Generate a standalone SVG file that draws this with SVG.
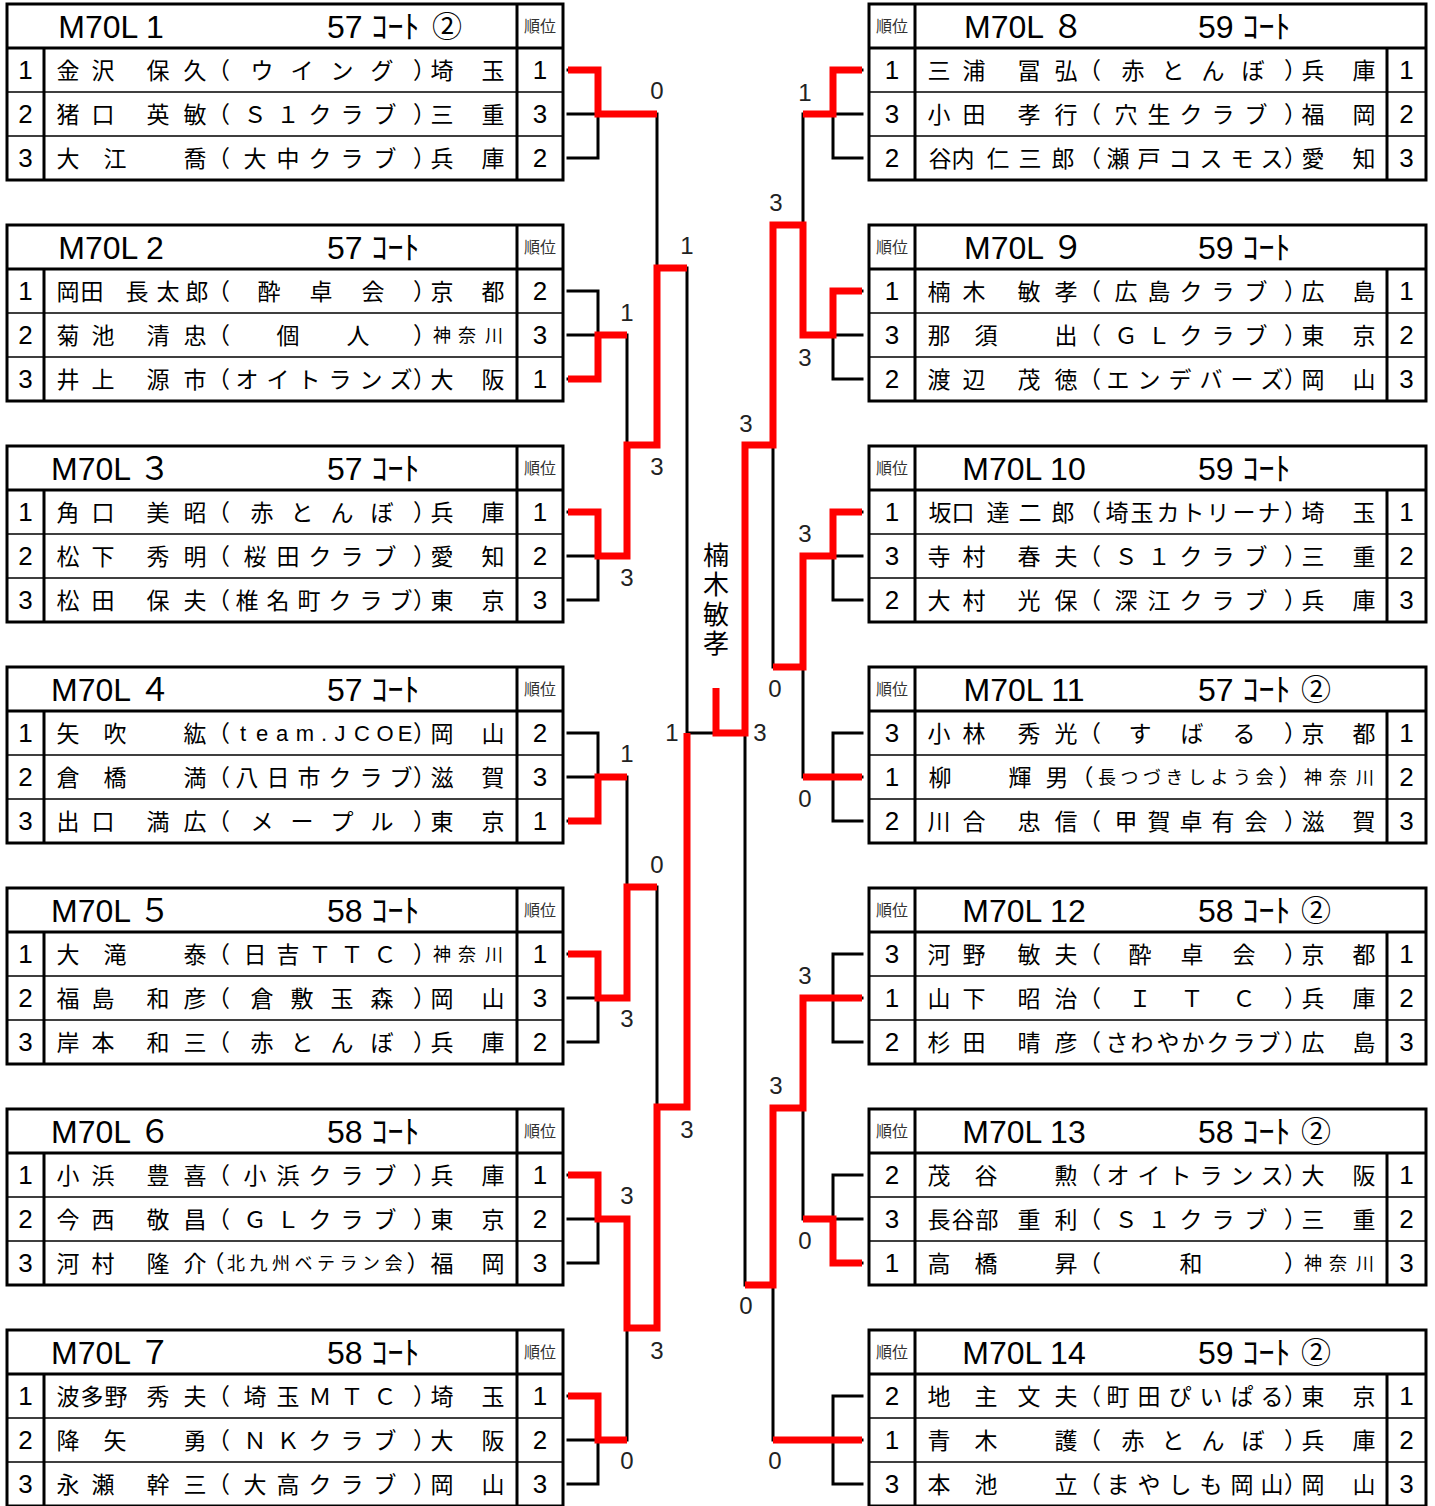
<svg xmlns="http://www.w3.org/2000/svg" width="1435" height="1506" viewBox="0 0 1435 1506">
<style>
.tb{fill:none;stroke:#000;stroke-width:3}
.tl{fill:none;stroke:#000;stroke-width:3}
.th{fill:none;stroke:#000;stroke-width:1.5}
.k{fill:none;stroke:#000;stroke-width:3;stroke-linecap:square}
.r{fill:none;stroke:#ff0000;stroke-width:7;stroke-linejoin:miter;stroke-linecap:butt}
.n{font-family:"Noto Sans CJK JP",sans-serif;font-size:23px;fill:#000;text-anchor:middle}
.s{font-family:"Noto Sans CJK JP",sans-serif;font-size:18px;fill:#000;text-anchor:middle}
.l{font-family:"Liberation Sans",sans-serif;font-size:22px;fill:#000;text-anchor:middle}
.d{font-family:"Liberation Sans",sans-serif;font-size:26px;fill:#000;text-anchor:middle}
.sc{font-family:"Liberation Sans",sans-serif;font-size:24px;fill:#222;text-anchor:middle}
.h{font-family:"Liberation Sans","Noto Sans CJK JP",sans-serif;font-size:32px;fill:#000}
.c{font-family:"Noto Sans CJK JP",sans-serif;font-size:30px;fill:#000;text-anchor:middle}
.j{font-family:"Noto Sans CJK JP",sans-serif;font-size:16px;fill:#333;text-anchor:middle}
.v{font-family:"Noto Sans CJK JP",sans-serif;font-size:26px;fill:#000;writing-mode:vertical-rl;letter-spacing:3.5px}
</style>

<!-- LEFT TABLES -->
<g id="t1" transform="translate(0,4)">
<rect class="tb" x="7" y="0" width="556" height="176"/>
<path class="tl" d="M7 44H563M44 44V176M517 0V176"/>
<path class="th" d="M7 88H563M7 132H563"/>
<text class="h" x="111" y="33.5" text-anchor="middle">M70L 1</text>
<text class="h" x="327" y="33.5">57 ｺｰﾄ</text>
<text class="c" x="447" y="32.5">②</text>
<text class="j" x="540" y="28">順位</text>
<text class="d" x="25.5" y="75.3">1</text><text class="d" x="25.5" y="119.3">2</text><text class="d" x="25.5" y="163.3">3</text>
<text class="d" x="540" y="75.3">1</text><text class="d" x="540" y="119.3">3</text><text class="d" x="540" y="163.3">2</text>
<text class="n" x="68 103 158 195 218.5 262 302 342 382 424.5 442 493" y="74.7">金沢保久（ウイング）埼玉</text>
<text class="n" x="68 103 158 195 218.5 255 288 320 352 385 424.5 442 493" y="118.7">猪口英敏（Ｓ１クラブ）三重</text>
<text class="n" x="68 115 195 218.5 255 288 320 352 385 424.5 442 493" y="162.7">大江喬（大中クラブ）兵庫</text>
</g>

<g id="t2" transform="translate(0,225)">
<rect class="tb" x="7" y="0" width="556" height="176"/>
<path class="tl" d="M7 44H563M44 44V176M517 0V176"/>
<path class="th" d="M7 88H563M7 132H563"/>
<text class="h" x="111" y="33.5" text-anchor="middle">M70L 2</text>
<text class="h" x="327" y="33.5">57 ｺｰﾄ</text>
<text class="j" x="540" y="28">順位</text>
<text class="d" x="25.5" y="75.3">1</text><text class="d" x="25.5" y="119.3">2</text><text class="d" x="25.5" y="163.3">3</text>
<text class="d" x="540" y="75.3">2</text><text class="d" x="540" y="119.3">3</text><text class="d" x="540" y="163.3">1</text>
<text class="n" x="68 92 137 168 197 218.5 269 321 373 424.5 442 493" y="74.7">岡田長太郎（酔卓会）京都</text>
<text class="n" x="68 103 158 195 218.5 288 358 424.5" y="118.7">菊池清忠（個人）</text>
<text class="s" x="442 467 494" y="116.8">神奈川</text>
<text class="n" x="68 103 158 195 218.5 247 278 309 340 371 401 424.5 442 493" y="162.7">井上源市（オイトランズ）大阪</text>
</g>

<g id="t3" transform="translate(0,446)">
<rect class="tb" x="7" y="0" width="556" height="176"/>
<path class="tl" d="M7 44H563M44 44V176M517 0V176"/>
<path class="th" d="M7 88H563M7 132H563"/>
<text class="h" x="111" y="33.5" text-anchor="middle">M70L ３</text>
<text class="h" x="327" y="33.5">57 ｺｰﾄ</text>
<text class="j" x="540" y="28">順位</text>
<text class="d" x="25.5" y="75.3">1</text><text class="d" x="25.5" y="119.3">2</text><text class="d" x="25.5" y="163.3">3</text>
<text class="d" x="540" y="75.3">1</text><text class="d" x="540" y="119.3">2</text><text class="d" x="540" y="163.3">3</text>
<text class="n" x="68 103 158 195 218.5 262 302 342 382 424.5 442 493" y="74.7">角口美昭（赤とんぼ）兵庫</text>
<text class="n" x="68 103 158 195 218.5 255 288 320 352 385 424.5 442 493" y="118.7">松下秀明（桜田クラブ）愛知</text>
<text class="n" x="68 103 158 195 218.5 247 278 309 340 371 401 424.5 442 493" y="162.7">松田保夫（椎名町クラブ）東京</text>
</g>

<g id="t4" transform="translate(0,667)">
<rect class="tb" x="7" y="0" width="556" height="176"/>
<path class="tl" d="M7 44H563M44 44V176M517 0V176"/>
<path class="th" d="M7 88H563M7 132H563"/>
<text class="h" x="111" y="33.5" text-anchor="middle">M70L ４</text>
<text class="h" x="327" y="33.5">57 ｺｰﾄ</text>
<text class="j" x="540" y="28">順位</text>
<text class="d" x="25.5" y="75.3">1</text><text class="d" x="25.5" y="119.3">2</text><text class="d" x="25.5" y="163.3">3</text>
<text class="d" x="540" y="75.3">2</text><text class="d" x="540" y="119.3">3</text><text class="d" x="540" y="163.3">1</text>
<text class="n" x="68 115 195 218.5" y="74.7">矢吹紘（</text>
<text class="l" x="243 262 282 305 324 340 362 385 405" y="74">team.JCOE</text>
<text class="n" x="424.5 442 493" y="74.7">）岡山</text>
<text class="n" x="68 115 195 218.5 247 278 309 340 371 401 424.5 442 493" y="118.7">倉橋満（八日市クラブ）滋賀</text>
<text class="n" x="68 103 158 195 218.5 262 302 342 382 424.5 442 493" y="162.7">出口満広（メープル）東京</text>
</g>

<g id="t5" transform="translate(0,888)">
<rect class="tb" x="7" y="0" width="556" height="176"/>
<path class="tl" d="M7 44H563M44 44V176M517 0V176"/>
<path class="th" d="M7 88H563M7 132H563"/>
<text class="h" x="111" y="33.5" text-anchor="middle">M70L ５</text>
<text class="h" x="327" y="33.5">58 ｺｰﾄ</text>
<text class="j" x="540" y="28">順位</text>
<text class="d" x="25.5" y="75.3">1</text><text class="d" x="25.5" y="119.3">2</text><text class="d" x="25.5" y="163.3">3</text>
<text class="d" x="540" y="75.3">1</text><text class="d" x="540" y="119.3">3</text><text class="d" x="540" y="163.3">2</text>
<text class="n" x="68 115 195 218.5 255 288 320 352 385 424.5" y="74.7">大滝泰（日吉ＴＴＣ）</text>
<text class="s" x="442 467 494" y="72.8">神奈川</text>
<text class="n" x="68 103 158 195 218.5 262 302 342 382 424.5 442 493" y="118.7">福島和彦（倉敷玉森）岡山</text>
<text class="n" x="68 103 158 195 218.5 262 302 342 382 424.5 442 493" y="162.7">岸本和三（赤とんぼ）兵庫</text>
</g>

<g id="t6" transform="translate(0,1109)">
<rect class="tb" x="7" y="0" width="556" height="176"/>
<path class="tl" d="M7 44H563M44 44V176M517 0V176"/>
<path class="th" d="M7 88H563M7 132H563"/>
<text class="h" x="111" y="33.5" text-anchor="middle">M70L ６</text>
<text class="h" x="327" y="33.5">58 ｺｰﾄ</text>
<text class="j" x="540" y="28">順位</text>
<text class="d" x="25.5" y="75.3">1</text><text class="d" x="25.5" y="119.3">2</text><text class="d" x="25.5" y="163.3">3</text>
<text class="d" x="540" y="75.3">1</text><text class="d" x="540" y="119.3">2</text><text class="d" x="540" y="163.3">3</text>
<text class="n" x="68 103 158 195 218.5 255 288 320 352 385 424.5 442 493" y="74.7">小浜豊喜（小浜クラブ）兵庫</text>
<text class="n" x="68 103 158 195 218.5 255 288 320 352 385 424.5 442 493" y="118.7">今西敬昌（ＧＬクラブ）東京</text>
<text class="n" x="68 103 158 195 213" y="162.7">河村隆介（</text>
<text class="s" x="236 258.5 281 303.5 326 348.5 371 393.5" y="160.8">北九州ベテラン会</text>
<text class="n" x="418 442 493" y="162.7">）福岡</text>
</g>

<g id="t7" transform="translate(0,1330)">
<rect class="tb" x="7" y="0" width="556" height="176"/>
<path class="tl" d="M7 44H563M44 44V176M517 0V176"/>
<path class="th" d="M7 88H563M7 132H563"/>
<text class="h" x="111" y="33.5" text-anchor="middle">M70L ７</text>
<text class="h" x="327" y="33.5">58 ｺｰﾄ</text>
<text class="j" x="540" y="28">順位</text>
<text class="d" x="25.5" y="75.3">1</text><text class="d" x="25.5" y="119.3">2</text><text class="d" x="25.5" y="163.3">3</text>
<text class="d" x="540" y="75.3">1</text><text class="d" x="540" y="119.3">2</text><text class="d" x="540" y="163.3">3</text>
<text class="n" x="68 92 116 158 195 218.5 255 288 320 352 385 424.5 442 493" y="74.7">波多野秀夫（埼玉ＭＴＣ）埼玉</text>
<text class="n" x="68 115 195 218.5 255 288 320 352 385 424.5 442 493" y="118.7">降矢勇（ＮＫクラブ）大阪</text>
<text class="n" x="68 103 158 195 218.5 255 288 320 352 385 424.5 442 493" y="162.7">永瀬幹三（大高クラブ）岡山</text>
</g>

<!-- RIGHT TABLES -->
<g id="t8" transform="translate(0,4)">
<rect class="tb" x="869" y="0" width="557" height="176"/>
<path class="tl" d="M869 44H1426M915 0V176M1387 44V176"/>
<path class="th" d="M869 88H1426M869 132H1426"/>
<text class="j" x="892" y="28">順位</text>
<text class="h" x="1024" y="33.5" text-anchor="middle">M70L ８</text>
<text class="h" x="1198" y="33.5">59 ｺｰﾄ</text>
<text class="d" x="892" y="75.3">1</text><text class="d" x="892" y="119.3">3</text><text class="d" x="892" y="163.3">2</text>
<text class="d" x="1406.5" y="75.3">1</text><text class="d" x="1406.5" y="119.3">2</text><text class="d" x="1406.5" y="163.3">3</text>
<text class="n" x="939 974 1029 1066 1089.5 1133 1173 1213 1253 1295.5 1313 1364" y="74.7">三浦冨弘（赤とんぼ）兵庫</text>
<text class="n" x="939 974 1029 1066 1089.5 1126 1159 1191 1223 1256 1295.5 1313 1364" y="118.7">小田孝行（穴生クラブ）福岡</text>
<text class="n" x="940 963 998 1030 1063 1089.5 1118 1149 1180 1211 1242 1272 1295.5 1313 1364" y="162.7">谷内仁三郎（瀬戸コスモス）愛知</text>
</g>

<g id="t9" transform="translate(0,225)">
<rect class="tb" x="869" y="0" width="557" height="176"/>
<path class="tl" d="M869 44H1426M915 0V176M1387 44V176"/>
<path class="th" d="M869 88H1426M869 132H1426"/>
<text class="j" x="892" y="28">順位</text>
<text class="h" x="1024" y="33.5" text-anchor="middle">M70L ９</text>
<text class="h" x="1198" y="33.5">59 ｺｰﾄ</text>
<text class="d" x="892" y="75.3">1</text><text class="d" x="892" y="119.3">3</text><text class="d" x="892" y="163.3">2</text>
<text class="d" x="1406.5" y="75.3">1</text><text class="d" x="1406.5" y="119.3">2</text><text class="d" x="1406.5" y="163.3">3</text>
<text class="n" x="939 974 1029 1066 1089.5 1126 1159 1191 1223 1256 1295.5 1313 1364" y="74.7">楠木敏孝（広島クラブ）広島</text>
<text class="n" x="939 986 1066 1089.5 1126 1159 1191 1223 1256 1295.5 1313 1364" y="118.7">那須出（ＧＬクラブ）東京</text>
<text class="n" x="939 974 1029 1066 1089.5 1118 1149 1180 1211 1242 1272 1295.5 1313 1364" y="162.7">渡辺茂徳（エンデバーズ）岡山</text>
</g>

<g id="t10" transform="translate(0,446)">
<rect class="tb" x="869" y="0" width="557" height="176"/>
<path class="tl" d="M869 44H1426M915 0V176M1387 44V176"/>
<path class="th" d="M869 88H1426M869 132H1426"/>
<text class="j" x="892" y="28">順位</text>
<text class="h" x="1024" y="33.5" text-anchor="middle">M70L 10</text>
<text class="h" x="1198" y="33.5">59 ｺｰﾄ</text>
<text class="d" x="892" y="75.3">1</text><text class="d" x="892" y="119.3">3</text><text class="d" x="892" y="163.3">2</text>
<text class="d" x="1406.5" y="75.3">1</text><text class="d" x="1406.5" y="119.3">2</text><text class="d" x="1406.5" y="163.3">3</text>
<text class="n" x="940 963 998 1030 1063 1089.5 1117 1142 1168 1193 1218 1244 1269 1295.5 1313 1364" y="74.7">坂口達二郎（埼玉カトリーナ）埼玉</text>
<text class="n" x="939 974 1029 1066 1089.5 1126 1159 1191 1223 1256 1295.5 1313 1364" y="118.7">寺村春夫（Ｓ１クラブ）三重</text>
<text class="n" x="939 974 1029 1066 1089.5 1126 1159 1191 1223 1256 1295.5 1313 1364" y="162.7">大村光保（深江クラブ）兵庫</text>
</g>

<g id="t11" transform="translate(0,667)">
<rect class="tb" x="869" y="0" width="557" height="176"/>
<path class="tl" d="M869 44H1426M915 0V176M1387 44V176"/>
<path class="th" d="M869 88H1426M869 132H1426"/>
<text class="j" x="892" y="28">順位</text>
<text class="h" x="1024" y="33.5" text-anchor="middle">M70L 11</text>
<text class="h" x="1198" y="33.5">57 ｺｰﾄ</text>
<text class="c" x="1316" y="32.5">②</text>
<text class="d" x="892" y="75.3">3</text><text class="d" x="892" y="119.3">1</text><text class="d" x="892" y="163.3">2</text>
<text class="d" x="1406.5" y="75.3">1</text><text class="d" x="1406.5" y="119.3">2</text><text class="d" x="1406.5" y="163.3">3</text>
<text class="n" x="939 974 1029 1066 1089.5 1140 1192 1244 1295.5 1313 1364" y="74.7">小林秀光（すばる）京都</text>
<text class="n" x="940 1020 1057 1082" y="118.7">柳輝男（</text>
<text class="s" x="1107 1129.5 1152 1174.5 1197 1219.5 1242 1264.5" y="116.8">長つづきしよう会</text>
<text class="n" x="1290" y="118.7">）</text>
<text class="s" x="1313 1338 1365" y="116.8">神奈川</text>
<text class="n" x="939 974 1029 1066 1089.5 1126 1159 1191 1223 1256 1295.5 1313 1364" y="162.7">川合忠信（甲賀卓有会）滋賀</text>
</g>

<g id="t12" transform="translate(0,888)">
<rect class="tb" x="869" y="0" width="557" height="176"/>
<path class="tl" d="M869 44H1426M915 0V176M1387 44V176"/>
<path class="th" d="M869 88H1426M869 132H1426"/>
<text class="j" x="892" y="28">順位</text>
<text class="h" x="1024" y="33.5" text-anchor="middle">M70L 12</text>
<text class="h" x="1198" y="33.5">58 ｺｰﾄ</text>
<text class="c" x="1316" y="32.5">②</text>
<text class="d" x="892" y="75.3">3</text><text class="d" x="892" y="119.3">1</text><text class="d" x="892" y="163.3">2</text>
<text class="d" x="1406.5" y="75.3">1</text><text class="d" x="1406.5" y="119.3">2</text><text class="d" x="1406.5" y="163.3">3</text>
<text class="n" x="939 974 1029 1066 1089.5 1140 1192 1244 1295.5 1313 1364" y="74.7">河野敏夫（酔卓会）京都</text>
<text class="n" x="939 974 1029 1066 1089.5 1140 1192 1244 1295.5 1313 1364" y="118.7">山下昭治（ＩＴＣ）兵庫</text>
<text class="n" x="939 974 1029 1066 1089.5 1117 1142 1168 1193 1218 1244 1269 1295.5 1313 1364" y="162.7">杉田晴彦（さわやかクラブ）広島</text>
</g>

<g id="t13" transform="translate(0,1109)">
<rect class="tb" x="869" y="0" width="557" height="176"/>
<path class="tl" d="M869 44H1426M915 0V176M1387 44V176"/>
<path class="th" d="M869 88H1426M869 132H1426"/>
<text class="j" x="892" y="28">順位</text>
<text class="h" x="1024" y="33.5" text-anchor="middle">M70L 13</text>
<text class="h" x="1198" y="33.5">58 ｺｰﾄ</text>
<text class="c" x="1316" y="32.5">②</text>
<text class="d" x="892" y="75.3">2</text><text class="d" x="892" y="119.3">3</text><text class="d" x="892" y="163.3">1</text>
<text class="d" x="1406.5" y="75.3">1</text><text class="d" x="1406.5" y="119.3">2</text><text class="d" x="1406.5" y="163.3">3</text>
<text class="n" x="939 986 1066 1089.5 1118 1149 1180 1211 1242 1272 1295.5 1313 1364" y="74.7">茂谷勲（オイトランス）大阪</text>
<text class="n" x="939 963 987 1029 1066 1089.5 1126 1159 1191 1223 1256 1295.5 1313 1364" y="118.7">長谷部重利（Ｓ１クラブ）三重</text>
<text class="n" x="939 986 1066 1089.5 1191 1295.5" y="162.7">高橋昇（和）</text>
<text class="s" x="1313 1338 1365" y="160.8">神奈川</text>
</g>

<g id="t14" transform="translate(0,1330)">
<rect class="tb" x="869" y="0" width="557" height="176"/>
<path class="tl" d="M869 44H1426M915 0V176M1387 44V176"/>
<path class="th" d="M869 88H1426M869 132H1426"/>
<text class="j" x="892" y="28">順位</text>
<text class="h" x="1024" y="33.5" text-anchor="middle">M70L 14</text>
<text class="h" x="1198" y="33.5">59 ｺｰﾄ</text>
<text class="c" x="1316" y="32.5">②</text>
<text class="d" x="892" y="75.3">2</text><text class="d" x="892" y="119.3">1</text><text class="d" x="892" y="163.3">3</text>
<text class="d" x="1406.5" y="75.3">1</text><text class="d" x="1406.5" y="119.3">2</text><text class="d" x="1406.5" y="163.3">3</text>
<text class="n" x="939 986 1029 1066 1089.5 1118 1149 1180 1211 1242 1272 1295.5 1313 1364" y="74.7">地主文夫（町田ぴいぱる）東京</text>
<text class="n" x="939 986 1066 1089.5 1133 1173 1213 1253 1295.5 1313 1364" y="118.7">青木護（赤とんぼ）兵庫</text>
<text class="n" x="939 986 1066 1089.5 1118 1149 1180 1211 1242 1272 1295.5 1313 1364" y="162.7">本池立（まやしも岡山）岡山</text>
</g>

<!-- CONNECTORS -->
<g id="connectors">
<path class="k" d="M568 70H598M568 114H598M568 158H598M598 70V158
M568 291H598M568 335H598M568 379H598M598 291V379
M568 512H598M568 556H598M568 600H598M598 512V600
M568 733H598M568 777H598M568 821H598M598 733V821
M568 954H598M568 998H598M568 1042H598M598 954V1042
M568 1175H598M568 1219H598M568 1263H598M598 1175V1263
M568 1396H598M568 1440H598M568 1484H598M598 1396V1484
M598 114H657M598 335H627M598 556H627M627 335V556M627 445H657M657 114V445M657 268H687
M598 777H627M598 998H627M627 777V998M627 887H657
M598 1219H627M598 1440H627M627 1219V1440M627 1328H657
M657 887V1328M657 1107H687M687 268V1107M687 733H716"/>
<path class="k" d="M862 70H833M862 114H833M862 158H833M833 70V158
M862 291H833M862 335H833M862 379H833M833 291V379
M862 512H833M862 556H833M862 600H833M833 512V600
M862 733H833M862 777H833M862 821H833M833 733V821
M862 954H833M862 998H833M862 1042H833M833 954V1042
M862 1175H833M862 1219H833M862 1263H833M833 1175V1263
M862 1396H833M862 1440H833M862 1484H833M833 1396V1484
M833 114H803M833 335H803M803 114V335M803 225H773
M833 556H803M833 777H803M803 556V777M803 667H773
M773 225V667M773 445H745
M833 998H803M833 1219H803M803 998V1219M803 1108H773
M833 1440H773M773 1108V1440M773 1285H745
M745 445V1285M745 733H716"/>
<path class="r" d="M568 70H598V114H657"/>
<path class="r" d="M568 379H598V335H627"/>
<path class="r" d="M568 512H598V556H627V445H657V268H687"/>
<path class="r" d="M568 821H598V777H627"/>
<path class="r" d="M568 954H598V998H627V887H657"/>
<path class="r" d="M568 1175H598V1219H627V1328H657V1107H687V733"/>
<path class="r" d="M568 1396H598V1440H627"/>
<path class="r" d="M862 70H833V114H803"/>
<path class="r" d="M862 291H833V335H803V225H773V445H745V733H716V688"/>
<path class="r" d="M862 512H833V556H803V667H773"/>
<path class="r" d="M862 777H803"/>
<path class="r" d="M862 998H803V1108H773V1285H745"/>
<path class="r" d="M862 1263H833V1219H803"/>
<path class="r" d="M862 1440H773"/>
<text class="sc" x="657" y="98.6">0</text>
<text class="sc" x="627" y="320.6">1</text>
<text class="sc" x="687" y="253.6">1</text>
<text class="sc" x="657" y="474.6">3</text>
<text class="sc" x="627" y="585.6">3</text>
<text class="sc" x="627" y="761.6">1</text>
<text class="sc" x="672" y="740.6">1</text>
<text class="sc" x="657" y="872.6">0</text>
<text class="sc" x="627" y="1026.6">3</text>
<text class="sc" x="687" y="1137.6">3</text>
<text class="sc" x="627" y="1203.6">3</text>
<text class="sc" x="657" y="1358.6">3</text>
<text class="sc" x="627" y="1468.6">0</text>
<text class="sc" x="805" y="100.6">1</text>
<text class="sc" x="776" y="210.6">3</text>
<text class="sc" x="805" y="365.6">3</text>
<text class="sc" x="746" y="431.6">3</text>
<text class="sc" x="805" y="541.6">3</text>
<text class="sc" x="775" y="696.6">0</text>
<text class="sc" x="760" y="740.6">3</text>
<text class="sc" x="805" y="806.6">0</text>
<text class="sc" x="805" y="983.6">3</text>
<text class="sc" x="776" y="1093.6">3</text>
<text class="sc" x="805" y="1248.6">0</text>
<text class="sc" x="746" y="1313.6">0</text>
<text class="sc" x="775" y="1468.6">0</text>
</g>

<g id="champion">
<text class="v" x="716" y="542">楠木敏孝</text>
</g>
</svg>
